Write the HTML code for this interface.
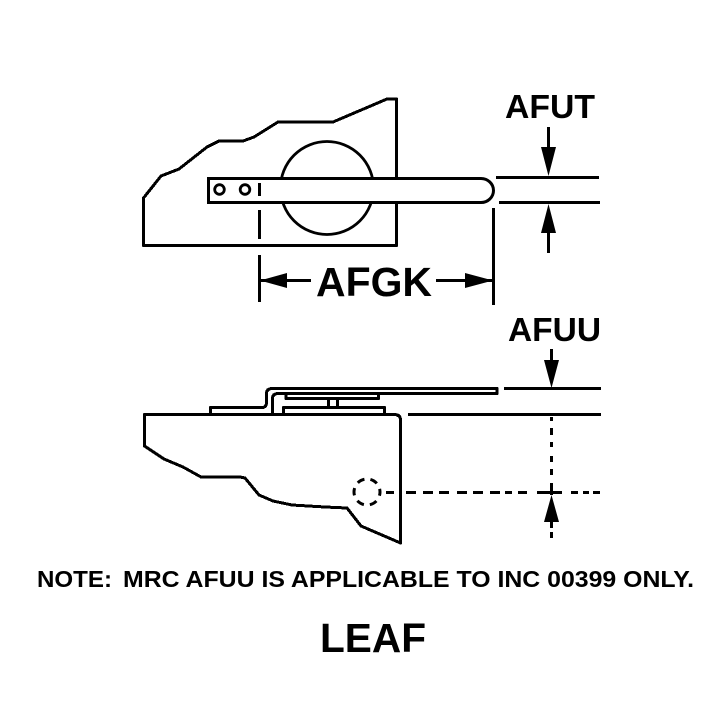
<!DOCTYPE html>
<html>
<head>
<meta charset="utf-8">
<style>
html,body{margin:0;padding:0;background:#fff;width:720px;height:712px;overflow:hidden}
svg{display:block}
text{font-family:"Liberation Sans",Arial,sans-serif;font-weight:bold;fill:#000}
.l{fill:none;stroke:#000;stroke-width:3;stroke-linejoin:round;shape-rendering:crispEdges}
.t{fill:none;stroke:#000;stroke-width:2.8}
</style>
</head>
<body>
<svg width="720" height="712" viewBox="0 0 720 712" xmlns="http://www.w3.org/2000/svg">
<!-- top view -->
<path class="l" d="M143.500 198L161 176L179 169L207 147L219 141L243 141L254 137L278 122L333 122L387 99L396.500 99L396.500 245.500L143.500 245.500Z"/>
<circle class="t" cx="327" cy="188" r="46.5" fill="none"/>
<path d="M208.500 178.500H481A12.500 12 0 0 1 481 202.500H208.500Z" fill="#fff" stroke="#000" stroke-width="3"/>
<circle class="t" cx="219.500" cy="189.500" r="4.800"/>
<circle class="t" cx="245" cy="189.500" r="4.800"/>
<path class="l" d="M259.500 183V196M259.500 210V239M259.500 255V302"/>
<path class="l" d="M493.500 208V305"/>
<path class="l" d="M261 280.500H311M436 280.500H492"/>
<path d="M260 280.500L287 273V288Z M493 280.500L465 273V288Z"/>
<!-- AFUT dim -->
<path class="l" d="M496 177.500H599M499 202.500H600M548.500 127V150M548.500 230V253"/>
<path d="M548.500 176L541 147H556Z M548.500 204L541 233H556Z"/>
<!-- bottom view -->
<path class="l" d="M144.500 414.500V446L164 459L183 467L201 477L240 477L245 478L259 495L273 501L292 505L325 507L347 508L361 526L400.500 543V420Q400.500 414.500 394 414.500H144.500Z"/>
<path class="l" d="M210.500 414V407.500H262Q266.500 407.500 266.500 402V394Q266.500 388.500 272 388.500H497V393.500H278Q272.500 393.500 272.500 399V414"/>
<path class="l" d="M283.500 414V407.500H384.500V414"/>
<path class="l" d="M286 394V398.500H378.500V394M328.500 398V407M337.500 398V407"/>
<!-- AFUU dim -->
<path class="l" d="M504 388.500H601M408 414.500H601M551.500 349V365"/>
<path d="M551.500 388L544 360H559Z M551.500 495L544 522H559Z"/>
<path class="l" d="M551.500 417V421M551.500 428V435M551.500 442V447M551.500 456V462M551.500 469V475M551.500 483V495M551.500 522V528M551.500 532V538"/>
<path class="l" d="M386 492.500H394M406 492.500H416M423 492.500H433M439 492.500H449M457 492.500H467M473 492.500H483M490 492.500H500M505 492.500H512M518 492.500H527M537 492.500H562M571 492.500H578M583 492.500H589M593 492.500H600"/>
<circle cx="367" cy="492" r="13" fill="none" stroke="#000" stroke-width="3" stroke-dasharray="7.500 6.120" stroke-dashoffset="3.750"/>
<!-- labels -->
<text x="505" y="118" font-size="33" textLength="90" lengthAdjust="spacingAndGlyphs">AFUT</text>
<text x="316" y="296" font-size="41" textLength="116" lengthAdjust="spacingAndGlyphs">AFGK</text>
<text x="508" y="341" font-size="33" textLength="93" lengthAdjust="spacingAndGlyphs">AFUU</text>
<text x="37" y="587" font-size="23.500" textLength="75" lengthAdjust="spacingAndGlyphs">NOTE:</text>
<text x="123" y="587" font-size="23.500" textLength="571" lengthAdjust="spacingAndGlyphs">MRC AFUU IS APPLICABLE TO INC 00399 ONLY.</text>
<text x="320" y="652" font-size="41" textLength="106" lengthAdjust="spacingAndGlyphs">LEAF</text>
</svg>
</body>
</html>
